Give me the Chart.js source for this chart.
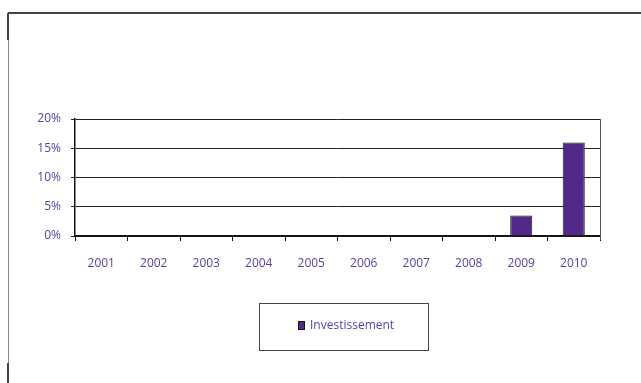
<!DOCTYPE html>
<html>
<head>
<meta charset="utf-8">
<script src="https://cdn.jsdelivr.net/npm/chart.js@4/dist/chart.umd.min.js"></script>
<style>
  html, body { margin: 0; padding: 0; background: #fff; }
  #wrap { width: 641px; height: 383px; }
</style>
</head>
<body>
<div id="wrap"><canvas id="chart" width="641" height="383"></canvas></div>
<script>
// chart data
const years = ["2001", "2002", "2003", "2004", "2005", "2006", "2007", "2008", "2009", "2010"];
const investissement = [0, 0, 0, 0, 0, 0, 0, 0, 3.5, 16.0];
const yTicks = [0, 5, 10, 15, 20];
const seriesLabel = "Investissement";

const purpleText = "#5a3e98";
const barFill = "#512a87";
const fontFamily = "'Open Sans', 'Liberation Sans', sans-serif";

// outer frame lines + plot right border + legend box
const decorations = {
    id: "decorations",
    beforeDraw(chart) {
        const c = chart.ctx;
        c.save();
        c.fillStyle = "#fff";
        c.fillRect(0, 0, chart.width, chart.height);
        c.strokeStyle = "#8a8a8a";
        c.lineWidth = 1;
        c.beginPath();
        c.moveTo(8.5, 383);
        c.lineTo(8.5, 13.5);
        c.stroke();
        c.strokeStyle = "#444";
        c.lineWidth = 2;
        c.beginPath();
        c.moveTo(8, 13);
        c.lineTo(641, 13);
        c.moveTo(8, 13);
        c.lineTo(8, 40);
        c.moveTo(8, 363);
        c.lineTo(8, 383);
        c.stroke();
        c.restore();
    },
    afterDraw(chart) {
        const c = chart.ctx;
        const a = chart.chartArea;
        c.save();
        c.strokeStyle = "#555";
        c.lineWidth = 1;
        c.beginPath();
        c.moveTo(Math.round(a.right) + 0.5, a.top);
        c.lineTo(Math.round(a.right) + 0.5, a.bottom + 4);
        c.stroke();

        // legend box
        c.strokeStyle = "#444";
        c.strokeRect(259.5, 303.5, 169, 47);
        const ds = chart.data.datasets[0];
        c.fillStyle = ds.backgroundColor;
        c.fillRect(298, 321, 7, 9);
        c.strokeStyle = "#111";
        c.strokeRect(298.5, 321.5, 6, 8);
        c.fillStyle = purpleText;
        c.font = "12px " + fontFamily;
        c.textBaseline = "middle";
        c.fillText(ds.label, 310, 326);
        c.restore();
    },
};

new Chart(document.getElementById("chart").getContext("2d"), {
    type: "bar",
    data: {
        labels: years,
        datasets: [
            {
                label: seriesLabel,
                data: investissement,
                backgroundColor: barFill,
                borderColor: "#1a1a1a",
                borderWidth: 1,
                categoryPercentage: 0.84,
                barPercentage: 0.5,
            },
        ],
    },
    options: {
        responsive: false,
        maintainAspectRatio: false,
        animation: false,
        layout: { padding: { top: 119, right: 41, left: 0, bottom: 0 } },
        plugins: {
            legend: { display: false },
            tooltip: { enabled: false },
        },
        scales: {
            y: {
                min: 0,
                max: 20,
                afterFit(scale) { scale.width = 75; },
                afterBuildTicks(scale) { scale.ticks = yTicks.map((v) => ({ value: v })); },
                grid: { color: "#222", lineWidth: 1, tickLength: 4, drawTicks: true },
                border: { color: "#111", width: 1.5 },
                ticks: {
                    color: purpleText,
                    padding: 10,
                    font: { size: 12, family: fontFamily },
                    callback: (v) => v + "%",
                },
            },
            x: {
                afterFit(scale) { scale.height = 147; },
                grid: { drawOnChartArea: false, drawTicks: true, tickLength: 5, color: "#111", offset: true },
                border: { color: "#111", width: 1.5 },
                ticks: {
                    color: purpleText,
                    padding: 15,
                    maxRotation: 0,
                    font: { size: 12, family: fontFamily },
                },
            },
        },
    },
    plugins: [decorations],
});
</script>
</body>
</html>
